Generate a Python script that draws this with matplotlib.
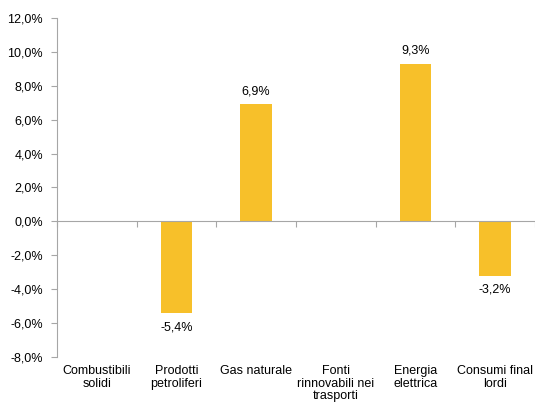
import matplotlib.pyplot as plt
import numpy as np
from matplotlib.ticker import FuncFormatter

# data
categories = [
    "Combustibili\nsolidi",
    "Prodotti\npetroliferi",
    "Gas naturale",
    "Fonti\nrinnovabili nei\ntrasporti",
    "Energia\nelettrica",
    "Consumi final\nlordi",
]
values = [None, -5.4, 6.9, None, 9.3, -3.2]

BAR_COLOR = "#F7C02A"
AXIS_GREY = "#A6A6A6"

plt.rcParams["font.family"] = ["Liberation Sans", "DejaVu Sans"]
plt.rcParams["font.size"] = 9

fig = plt.figure(figsize=(5.35, 4.07), dpi=100)
ax = fig.add_axes([0.1065, 0.1229, 0.8935, 0.8329])

x = np.arange(len(categories))
heights = [v if v is not None else 0 for v in values]
ax.bar(x, heights, width=0.4, color=BAR_COLOR, zorder=2)

for xi, v in zip(x, values):
    if v is None:
        continue
    label = f"{v:.1f}%".replace(".", ",")
    if v >= 0:
        ax.annotate(label, (xi, v), xytext=(0, 5), textcoords="offset points",
                    ha="center", va="bottom", fontsize=9)
    else:
        ax.annotate(label, (xi, v), xytext=(0, -6), textcoords="offset points",
                    ha="center", va="top", fontsize=9)

ax.set_xlim(-0.5, len(categories) - 0.5)
ax.set_ylim(-8, 12)
ax.set_yticks(np.arange(-8, 12.1, 2))
ax.yaxis.set_major_formatter(FuncFormatter(lambda v, _: f"{v:.1f}%".replace(".", ",")))

# x axis sits on zero, ticks between categories
ax.spines["bottom"].set_position(("data", 0))
ax.spines["bottom"].set_color(AXIS_GREY)
ax.spines["left"].set_color(AXIS_GREY)
ax.spines["top"].set_visible(False)
ax.spines["right"].set_visible(False)
ax.set_xticks(np.arange(-0.5, len(categories) - 0.4, 1.0))
ax.set_xticklabels([])
ax.tick_params(axis="x", length=4, color=AXIS_GREY, direction="out")
ax.tick_params(axis="y", length=4, color=AXIS_GREY, direction="out", pad=6, labelsize=9)

# category labels below the plot area
trans = ax.get_xaxis_transform()
for xi, cat in zip(x, categories):
    ax.text(xi, -0.025, cat, transform=trans, ha="center", va="top", fontsize=9,
            multialignment="center", linespacing=1.05, color="#000000")

fig.savefig("out.png", dpi=100)
